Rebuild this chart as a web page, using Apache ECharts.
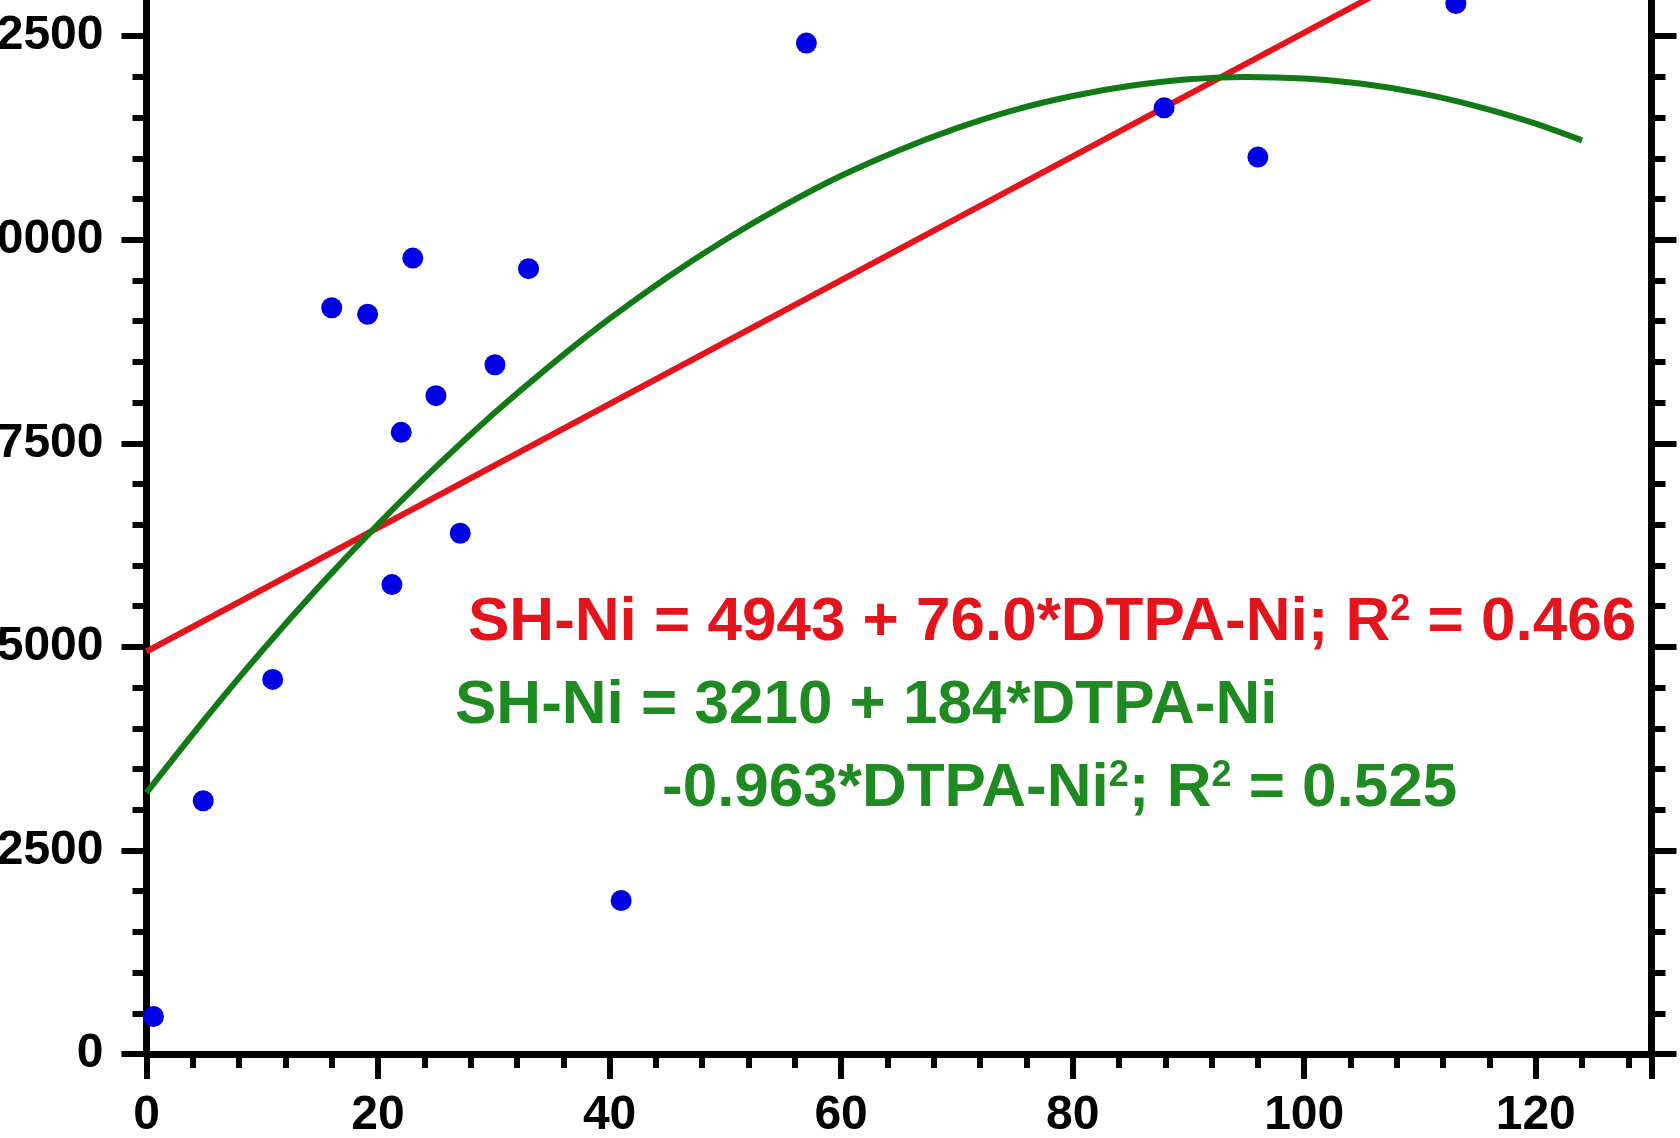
<!DOCTYPE html>
<html>
<head>
<meta charset="utf-8">
<script src="https://cdn.jsdelivr.net/npm/echarts@6/dist/echarts.min.js"></script>
<style>
html,body{margin:0;padding:0;background:#fff;}
#chart{width:1680px;height:1138px;}
</style>
</head>
<body>
<div id="chart"></div>
<script>
// DTPA-Ni (x) vs SH-Ni (y) observations
const dtpaNi = [0.6, 4.9, 10.9, 16.0, 19.1, 23.0, 22.0, 25.0, 21.2, 27.1, 30.1, 33.0, 41.0, 57.0, 87.9, 96.0, 113.1];
const shNi   = [460, 3110, 4600, 9165, 9085, 9775, 7635, 8085, 5765, 6395, 8465, 9645, 1885, 12415, 11620, 11015, 12900];

// linear fit line (endpoints)
const linX = [0, 124];
const linY = [4943, 14367];

// quadratic fit curve
const quadX = [0, 5, 10, 15, 20, 25, 30, 35, 40, 45, 50, 55, 60, 65, 70, 75, 80, 85, 90, 95, 100, 105, 110, 115, 120, 124];
const quadY = [3210, 4105, 4955, 5755, 6505, 7210, 7865, 8470, 9030, 9540, 10000, 10415, 10785, 11100, 11370, 11595, 11765, 11890, 11970, 12000, 11980, 11915, 11800, 11635, 11425, 11220];

// axis settings
const xTicks = {min: 0, max: 130, interval: 20};
const yTicks = {min: 0, max: 15000, interval: 2500};

const labelRed = 'SH-Ni = 4943 + 76.0*DTPA-Ni; R';
const labelRedTail = ' = 0.466';
const labelGreen1 = 'SH-Ni = 3210 + 184*DTPA-Ni';
const labelGreen2a = '-0.963*DTPA-Ni';
const labelGreen2b = '; R';
const labelGreen2c = ' = 0.525';

const FONT = '"Liberation Sans", Arial, sans-serif';
const RED = '#e3141c';
const GREEN_LINE = '#117a17';
const GREEN_TXT = '#1f8a22';

const chart = echarts.init(document.getElementById('chart'));

const axisLineStyle = {color: '#000', width: 7};
const tickStyle = {color: '#000', width: 6};
const plain = v => String(v);

function richStyles(color) {
  return {
    m: {fontFamily: FONT, fontWeight: 'bold', fontSize: 62, lineHeight: 62, fill: color, color: color},
    s: {fontFamily: FONT, fontWeight: 'bold', fontSize: 36, lineHeight: 36, verticalAlign: 'top', fill: color, color: color}
  };
}

const option = {
  backgroundColor: '#fff',
  animation: false,
  grid: {left: 146.5, right: 28.5, top: -167.4, bottom: 84, containLabel: false, outerBoundsMode: 'none'},
  xAxis: [{
    type: 'value', position: 'bottom',
    min: xTicks.min, max: xTicks.max, interval: xTicks.interval,
    axisLine: {show: true, onZero: false, lineStyle: axisLineStyle},
    axisTick: {show: true, inside: false, length: 25, lineStyle: tickStyle},
    minorTick: {show: true, splitNumber: 5, length: 14, lineStyle: tickStyle},
    axisLabel: {show: true, margin: 38, fontFamily: FONT, fontWeight: 'bold', fontSize: 48, color: '#000',
      showMaxLabel: false, formatter: plain},
    splitLine: {show: false}
  }, {
    type: 'value', position: 'top',
    min: xTicks.min, max: xTicks.max, interval: xTicks.interval,
    axisLine: {show: true, onZero: false, lineStyle: axisLineStyle},
    axisTick: {show: true, length: 25, lineStyle: tickStyle},
    minorTick: {show: true, splitNumber: 5, length: 14, lineStyle: tickStyle},
    axisLabel: {show: false},
    splitLine: {show: false}
  }],
  yAxis: [{
    type: 'value', position: 'left',
    min: yTicks.min, max: yTicks.max, interval: yTicks.interval,
    axisLine: {show: true, onZero: false, lineStyle: axisLineStyle},
    axisTick: {show: true, length: 25, lineStyle: tickStyle},
    minorTick: {show: true, splitNumber: 5, length: 14, lineStyle: tickStyle},
    axisLabel: {show: true, margin: 43, fontFamily: FONT, fontWeight: 'bold', fontSize: 48, color: '#000',
      formatter: plain},
    splitLine: {show: false}
  }, {
    type: 'value', position: 'right',
    min: yTicks.min, max: yTicks.max, interval: yTicks.interval,
    axisLine: {show: true, onZero: false, lineStyle: axisLineStyle},
    axisTick: {show: true, length: 25, lineStyle: tickStyle},
    minorTick: {show: true, splitNumber: 5, length: 14, lineStyle: tickStyle},
    axisLabel: {show: false},
    splitLine: {show: false}
  }],
  series: [{
    name: 'linear', type: 'line', xAxisIndex: 0, yAxisIndex: 0,
    data: linX.map((x, i) => [x, linY[i]]),
    showSymbol: false, symbol: 'none',
    lineStyle: {color: RED, width: 6}, z: 3
  }, {
    name: 'quadratic', type: 'line', xAxisIndex: 0, yAxisIndex: 0,
    data: quadX.map((x, i) => [x, quadY[i]]),
    smooth: 0.2, showSymbol: false, symbol: 'none',
    lineStyle: {color: GREEN_LINE, width: 6}, z: 3
  }, {
    name: 'obs', type: 'scatter', xAxisIndex: 0, yAxisIndex: 0,
    data: dtpaNi.map((x, i) => [x, shNi[i]]),
    symbol: 'circle', symbolSize: 21, clip: false,
    itemStyle: {color: '#0000e6', opacity: 1}, z: 4
  }],
  graphic: [{
    type: 'text', x: 468, y: 592, z: 10,
    style: {
      text: '{m|' + labelRed + '}{s|2}{m|' + labelRedTail + '}',
      rich: richStyles(RED), verticalAlign: 'top', align: 'left'
    }
  }, {
    type: 'text', x: 455, y: 675, z: 10,
    style: {
      text: '{m|' + labelGreen1 + '}',
      rich: richStyles(GREEN_TXT), verticalAlign: 'top', align: 'left'
    }
  }, {
    type: 'text', x: 662, y: 758, z: 10,
    style: {
      text: '{m|' + labelGreen2a + '}{s|2}{m|' + labelGreen2b + '}{s|2}{m|' + labelGreen2c + '}',
      rich: richStyles(GREEN_TXT), verticalAlign: 'top', align: 'left'
    }
  }]
};

chart.setOption(option);
</script>
</body>
</html>
